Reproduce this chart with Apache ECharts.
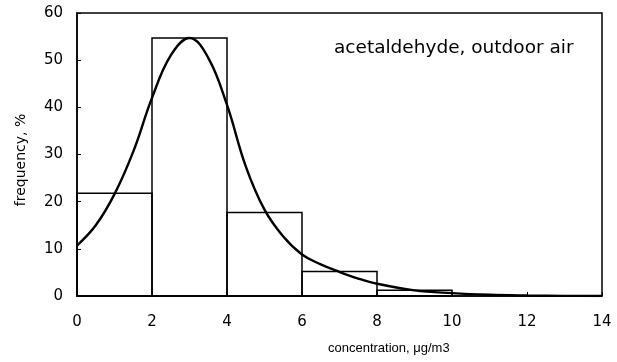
<!DOCTYPE html>
<html>
<head>
<meta charset="utf-8">
<script src="https://cdn.jsdelivr.net/npm/echarts@6/dist/echarts.min.js"></script>
<style>html,body{margin:0;padding:0;background:#fff}#c{width:617px;height:362px}</style>
</head>
<body>
<div id="c"></div>
<script>
var binStarts = [0, 2, 4, 6, 8];
var binWidth = 2;
var binFreq = [21.8, 54.7, 17.7, 5.2, 1.2];
var curveX = [0, 0.5, 1, 1.5, 2, 2.5, 3, 3.5, 4, 4.5, 5, 5.5, 6, 6.5, 7, 7.5, 8, 9, 10, 11, 12, 13, 14];
var curveY = [10.7, 15.0, 21.6, 30.6, 42, 51, 54.7, 50.5, 40.5, 27.5, 18.3, 12.6, 8.8, 6.7, 5.1, 3.7, 2.6, 1.2, 0.6, 0.25, 0.1, 0.03, 0];
var xTicks = [0, 2, 4, 6, 8, 10, 12, 14];
var yTicks = [0, 10, 20, 30, 40, 50, 60];
var annotation = 'acetaldehyde, outdoor air';
var xName = 'concentration, \u03bcg/m3';
var yName = 'frequency, %';

var chart = echarts.init(document.getElementById('c'), null, {renderer: 'canvas'});
var font = 'Liberation Sans, Arial, Helvetica, sans-serif';
var wide = 'DejaVu Sans, sans-serif';
var histData = binStarts.map(function (s, i) { return [s, s + binWidth, binFreq[i]]; });
var curveData = curveX.map(function (x, i) { return [x, curveY[i]]; });

chart.setOption({
  animation: false,
  grid: {left: 77, right: 15, top: 13, bottom: 66, show: true, borderColor: '#000', borderWidth: 1.5, backgroundColor: 'transparent'},
  xAxis: {
    type: 'value', min: xTicks[0], max: xTicks[xTicks.length - 1], interval: 2,
    axisLine: {lineStyle: {color: '#000', width: 1.5}},
    axisTick: {inside: true, length: 4, lineStyle: {color: '#000'}},
    axisLabel: {color: '#000', fontSize: 15, fontFamily: wide, margin: 19},
    splitLine: {show: false}
  },
  yAxis: {
    type: 'value', min: yTicks[0], max: yTicks[yTicks.length - 1], interval: 10,
    axisLine: {show: true, lineStyle: {color: '#000', width: 1.5}},
    axisTick: {show: true, inside: true, length: 4, lineStyle: {color: '#000'}},
    axisLabel: {color: '#000', fontSize: 15, fontFamily: wide, margin: 14},
    splitLine: {show: false}
  },
  graphic: [
    {type: 'text', left: 334, top: 39, style: {text: annotation, fill: '#000', font: '18.5px ' + wide}},
    {type: 'text', left: 328, top: 342, style: {text: xName, fill: '#000', font: '13px ' + font}},
    {type: 'text', x: 21, y: 160, rotation: Math.PI / 2,
      style: {text: yName, fill: '#000', font: '14px ' + wide, textAlign: 'center', textVerticalAlign: 'middle'}}
  ],
  series: [
    {
      type: 'custom',
      data: histData,
      encode: {x: [0, 1], y: 2},
      renderItem: function (params, api) {
        var p0 = api.coord([api.value(0), 0]);
        var p1 = api.coord([api.value(1), api.value(2)]);
        return {
          type: 'rect',
          shape: {x: p0[0], y: p1[1], width: p1[0] - p0[0], height: p0[1] - p1[1]},
          style: {fill: 'none', stroke: '#000', lineWidth: 1.5}
        };
      },
      z: 2
    },
    {
      type: 'line',
      data: curveData,
      smooth: 0.4,
      showSymbol: false,
      lineStyle: {color: '#000', width: 2.4},
      z: 3
    }
  ]
});
</script>
</body>
</html>
